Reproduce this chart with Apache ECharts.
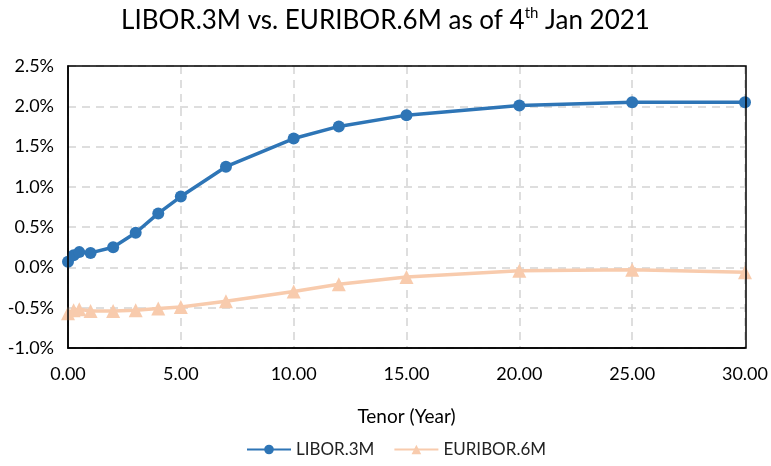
<!DOCTYPE html>
<html>
<head>
<meta charset="utf-8">
<script src="https://cdn.jsdelivr.net/npm/echarts@6/dist/echarts.min.js"></script>
<style>
  html, body { margin: 0; padding: 0; background: #fff; }
  #chart { width: 771px; height: 466px; }
</style>
</head>
<body>
<div id="chart"></div>
<script>
// Tenors in years and curve rates in percent
const tenors = [0, 0.25, 0.5, 1, 2, 3, 4, 5, 7, 10, 12, 15, 20, 25, 30];
const liborRates = [0.07, 0.15, 0.19, 0.18, 0.25, 0.43, 0.67, 0.88, 1.25, 1.60, 1.75, 1.89, 2.01, 2.05, 2.05];
const euriborRates = [-0.57, -0.53, -0.52, -0.54, -0.54, -0.53, -0.51, -0.49, -0.42, -0.30, -0.21, -0.12, -0.04, -0.03, -0.06];
const seriesNames = ['LIBOR.3M', 'EURIBOR.6M'];

const FONT = 'Lato, "Open Sans", sans-serif';

const pairs = (xs, ys) => xs.map((x, i) => [x, ys[i]]);

const chart = echarts.init(document.getElementById('chart'));
chart.setOption({
  animation: false,
  textStyle: { fontFamily: FONT },
  title: {
    text: 'LIBOR.3M vs. EURIBOR.6M as of 4{sup|th} Jan 2021',
    left: 'center',
    top: 1,
    textStyle: {
      fontFamily: FONT, fontSize: 26, fontWeight: 'normal', color: '#000',
      rich: { sup: { fontFamily: FONT, fontSize: 15, color: '#000', verticalAlign: 'top', padding: [0, 0, 14, 0] } }
    }
  },
  legend: {
    bottom: 3,
    left: 241,
    itemGap: 19,
    itemWidth: 44,
    itemHeight: 12,
    textStyle: { fontFamily: FONT, fontSize: 17, color: '#222' },
    data: seriesNames
  },
  grid: { left: 68, right: 25, top: 66, bottom: 118, containLabel: false },
  xAxis: {
    type: 'value',
    min: 0, max: 30, interval: 5,
    name: 'Tenor (Year)',
    nameLocation: 'middle',
    nameGap: 59,
    nameTextStyle: { fontFamily: FONT, fontSize: 19, color: '#000' },
    axisLine: { show: true, onZero: false, lineStyle: { color: '#000', width: 1.5 } },
    axisTick: { show: false },
    axisLabel: { fontFamily: FONT, fontSize: 18, color: '#000', margin: 17, formatter: v => v.toFixed(2) },
    splitLine: { show: true, lineStyle: { color: '#d4d4d4', type: [8, 6], width: 1.5 } }
  },
  yAxis: {
    type: 'value',
    min: -1, max: 2.5, interval: 0.5,
    axisLine: { show: true, lineStyle: { color: '#000', width: 1.5 } },
    axisTick: { show: false },
    axisLabel: { fontFamily: FONT, fontSize: 18, color: '#000', margin: 14, formatter: v => v.toFixed(1) + '%' },
    splitLine: { show: true, lineStyle: { color: '#d4d4d4', type: [8, 6], width: 1.5 } }
  },
  series: [
    {
      name: seriesNames[0],
      type: 'line',
      data: pairs(tenors, liborRates),
      symbol: 'circle',
      symbolSize: 12,
      itemStyle: { color: '#2E75B6' },
      lineStyle: { color: '#2E75B6', width: 3.5 },
      z: 3
    },
    {
      name: seriesNames[1],
      type: 'line',
      data: pairs(tenors, euriborRates),
      symbol: 'triangle',
      symbolSize: 14,
      itemStyle: { color: '#F8CBAD' },
      lineStyle: { color: '#F8CBAD', width: 3.5 },
      z: 2
    }
  ],
  graphic: [
    {
      type: 'rect',
      shape: { x: 68, y: 66, width: 678, height: 282 },
      style: { fill: 'none', stroke: '#000', lineWidth: 1.5 },
      z: 10, silent: true
    }
  ]
});
</script>
</body>
</html>
